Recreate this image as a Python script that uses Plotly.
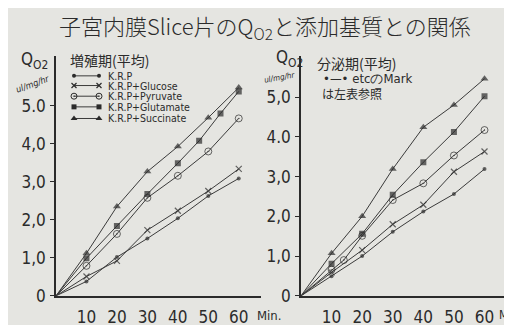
import plotly.graph_objects as go

W, H = 512, 325

# ---------------- data ----------------
minutes = [0, 10, 20, 30, 40, 50, 60]
x_ticks = [10, 20, 30, 40, 50, 60]
x_tick_labels = ["10", "20", "30", "40", "50", "60"]
y_ticks = [0, 1, 2, 3, 4, 5]
y_tick_labels_left = ["0", "1,0", "2,0", "3,0", "4,0", "5.0"]
y_tick_labels_right = ["0", "1,0", "2,0", "3,0", "4.0", "5,0"]

series_names = ["K.R.P", "K.R.P+Glucose", "K.R.P+Pyruvate", "K.R.P+Glutamate", "K.R.P+Succinate"]

# 増殖期 (平均)
L_krp = [0, 0.38, 1.02, 1.51, 2.04, 2.63, 3.09]
L_glucose = [0, 0.51, 0.92, 1.73, 2.24, 2.76, 3.34]
L_pyruvate = [0, 0.79, 1.63, 2.58, 3.16, 3.80, 4.67]
L_glutamate_min = [0, 10, 20, 30, 40, 47, 54, 60]
L_glutamate = [0, 0.99, 1.84, 2.68, 3.49, 4.08, 4.80, 5.38]
L_succinate = [0, 1.12, 2.35, 3.27, 3.93, 4.69, 5.48]

# 分泌期 (平均)
R_krp = [0, 0.49, 1.00, 1.61, 2.12, 2.56, 3.19]
R_glucose = [0, 0.59, 1.15, 1.80, 2.29, 3.12, 3.63]
R_pyruvate_min = [0, 10, 14, 20, 30, 40, 50, 60]
R_pyruvate = [0, 0.66, 0.90, 1.51, 2.41, 2.83, 3.53, 4.17]
R_glutamate = [0, 0.81, 1.56, 2.54, 3.36, 4.12, 5.02]
R_succinate = [0, 1.07, 2.00, 3.19, 4.24, 4.80, 5.46]

# ---------------- style ----------------
INK = "#2b2b2b"
LINE = "#3a3a3a"
BG = "#e5e5e1"
NUMFONT = "DejaVu Sans Condensed, Liberation Sans Narrow, DejaVu Sans, sans-serif"
JPFONT = "Noto Sans CJK JP, sans-serif"

styles = [
    dict(symbol="circle", size=4, line=dict(width=0)),
    dict(symbol="x-thin", size=6, line=dict(width=1.2, color=INK)),
    dict(symbol="circle-open-dot", size=7, line=dict(width=1.0, color=INK)),
    dict(symbol="square", size=6, line=dict(width=0)),
    dict(symbol="triangle-up", size=7, line=dict(width=0)),
]

fig = go.Figure()


def add_series(xs, ys, st, xa, ya):
    sizes = [0 if x == 0 else st["size"] for x in xs]
    fig.add_trace(go.Scatter(
        x=xs, y=ys, mode="lines+markers", xaxis=xa, yaxis=ya,
        line=dict(color=LINE, width=1),
        marker=dict(symbol=st["symbol"], size=sizes, color=INK, line=st["line"]),
        showlegend=False, hoverinfo="skip"))


left_sets = [(minutes, L_krp), (minutes, L_glucose), (minutes, L_pyruvate),
             (L_glutamate_min, L_glutamate), (minutes, L_succinate)]
right_sets = [(minutes, R_krp), (minutes, R_glucose), (R_pyruvate_min, R_pyruvate),
              (minutes, R_glutamate), (minutes, R_succinate)]
for (xs, ys), st in zip(left_sets, styles):
    add_series(xs, ys, st, "x", "y")
for (xs, ys), st in zip(right_sets, styles):
    add_series(xs, ys, st, "x2", "y2")

# legend glyphs (marker—line—marker) drawn on a pixel-space overlay axis
legend_rows = [70, 80, 91, 102, 114]
for row, st in zip(legend_rows, styles):
    fig.add_trace(go.Scatter(
        x=[66, 91], y=[row, row], mode="lines+markers", xaxis="x3", yaxis="y3",
        line=dict(color=LINE, width=1),
        marker=dict(symbol=st["symbol"], size=max(st["size"] - 1, 4), color=INK, line=st["line"]),
        showlegend=False, hoverinfo="skip"))

# ---------------- layout ----------------
def px(x):
    return x / W


def py(y):
    return 1 - y / H


axis_common = dict(showgrid=False, zeroline=False, showline=True, linecolor=INK, linewidth=1.5,
                   tickfont=dict(family=NUMFONT, size=17, color=INK))

fig.update_layout(
    width=W, height=H, margin=dict(l=0, r=0, t=0, b=0),
    paper_bgcolor=BG, plot_bgcolor="rgba(0,0,0,0)",
    xaxis=dict(domain=[px(48), px(253)], range=[0, 67.3], anchor="y",
               tickvals=x_ticks, ticktext=x_tick_labels, ticks="", ticklabelstandoff=5, **axis_common),
    yaxis=dict(domain=[py(297), py(50)], range=[0, 6.3], anchor="x",
               tickvals=y_ticks, ticktext=y_tick_labels_left, ticks="outside", ticklen=4,
               tickcolor=INK, ticklabelstandoff=1, **axis_common),
    xaxis2=dict(domain=[px(293), px(497)], range=[0, 66.7], anchor="y2",
                tickvals=x_ticks, ticktext=x_tick_labels, ticks="", ticklabelstandoff=5, **axis_common),
    yaxis2=dict(domain=[py(297), py(50)], range=[0, 6.02], anchor="x2",
                tickvals=y_ticks, ticktext=y_tick_labels_right, ticks="outside", ticklen=4,
                tickcolor=INK, ticklabelstandoff=1, **axis_common),
    xaxis3=dict(domain=[0, 1], range=[0, W], visible=False, fixedrange=True),
    yaxis3=dict(domain=[0, 1], range=[H, 0], visible=False, fixedrange=True, anchor="x3"),
)

ann = []


def text(x, y, s, size, font=JPFONT, xanchor="left", yanchor="middle", angle=0, weight=None):
    f = dict(family=font, size=size, color=INK)
    if weight:
        f["weight"] = weight
    ann.append(dict(x=px(x), y=py(y), xref="paper", yref="paper", text=s, showarrow=False,
                    xanchor=xanchor, yanchor=yanchor, textangle=angle, font=f))


text(257, 19, "子宮内膜Slice片のQ<sub>O2</sub>と添加基質との関係", 22, xanchor="center", weight=300)
# axis titles
text(11, 54, "Q<sub>O2</sub>", 17, font=NUMFONT)
text(4, 78, "<i>ul/mg/hr</i>", 9, font=NUMFONT, angle=-20)
text(266, 52, "Q<sub>O2</sub>", 17, font=NUMFONT)
text(253, 72, "<i>ul/mg/hr</i>", 8, font=NUMFONT, angle=-10)
# period labels
text(60, 54, "増殖期(平均)", 14)
text(307, 57, "分泌期(平均)", 14)
text(313, 73, "•—• etcのMark", 13, font=NUMFONT)
text(312, 88, "は左表参照", 12)
# legend texts
for row, name in zip(legend_rows, series_names):
    text(98, row, name, 10.5, font=NUMFONT)
# Min. labels
text(247, 317, "Min.", 13, font=NUMFONT)
text(489, 317, "Min.", 12, font=NUMFONT)

fig.update_layout(annotations=ann)
fig.write_html("out.html")
